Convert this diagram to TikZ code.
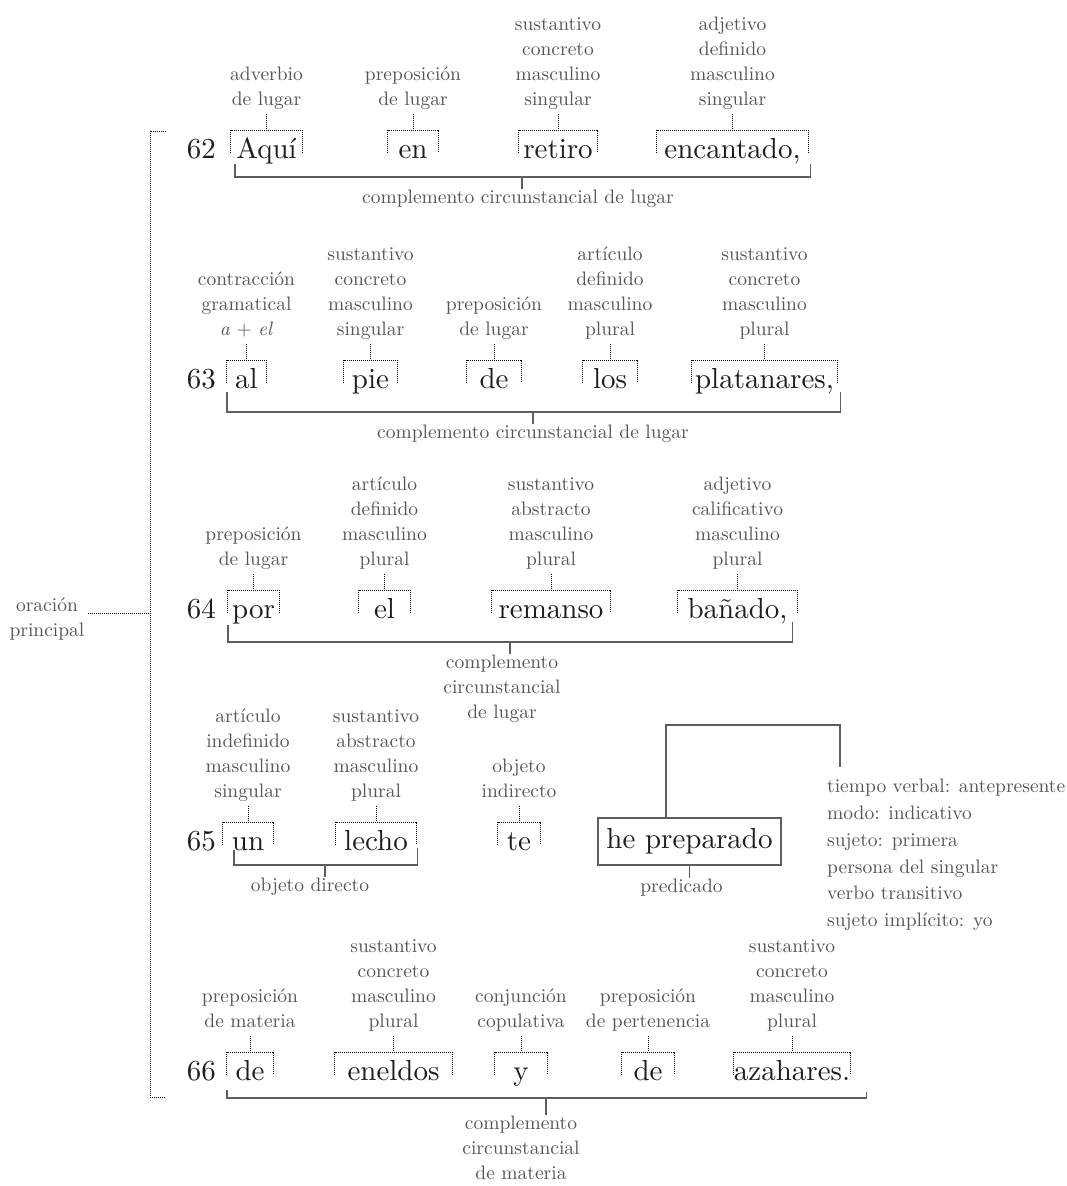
\documentclass[tikz,border=0pt]{standalone}
\usepackage{fontspec}
\setmainfont{lmroman10-regular.otf}[ItalicFont=lmroman10-italic.otf]
\usetikzlibrary{positioning,calc}
\definecolor{lblgray}{HTML}{555555}
\definecolor{wrdink}{HTML}{1E1E1E}
\definecolor{brkgray}{HTML}{5E5E5E}

\begin{document}
\begin{tikzpicture}[x=1pt, y=-1pt,
  wrd/.style={font=\fontsize{29}{29}\selectfont, text=wrdink, inner sep=0pt, anchor=base},
  lbl/.style={font=\fontsize{19.5}{25}\selectfont, text=lblgray, align=center, inner sep=1pt},
  toplbl/.style={lbl, execute at end node=\strut},
  tagbox/.style={minimum height=22pt, inner sep=0pt, anchor=north},
  dotln/.style={draw=black, line width=0.9pt, dash pattern=on 0.9pt off 1.1pt},
  brk/.style={draw=brkgray, line width=1.4pt}
]
  \path[fill=white] (0,0) rectangle (1066,1186);
  \useasboundingbox (0,0) rectangle (1066,1186);

  % verse numbers
  \foreach \r/\base in {62/158,63/388,64/618,65/850,66/1080}
    \node[wrd, anchor=base east] (n\r) at (216,\base) {\r};

  % words with their dotted tags
  \foreach \nm/\base/\xl/\xr/\word/\lab in {
      aqui/158/231/302/{Aquí}/{adverbio\\de lugar},
      en/158/388/438/{en}/{preposición\\de lugar},
      retiro/158/519/597/{retiro}/{sustantivo\\concreto\\masculino\\singular},
      encantado/158/657/808/{encantado,}/{adjetivo\\definido\\masculino\\singular},
      al/388/227/266/{al}/{contracción\\gramatical\\\textit{a} + \textit{el}},
      pie/388/344/397/{pie}/{sustantivo\\concreto\\masculino\\singular},
      de1/388/467/521/{de}/{preposición\\de lugar},
      los/388/583/637/{los}/{artículo\\definido\\masculino\\plural},
      platanares/388/692/837/{platanares,}/{sustantivo\\concreto\\masculino\\plural},
      por/618/228/279/{por}/{preposición\\de lugar},
      el/618/359/410/{el}/{artículo\\definido\\masculino\\plural},
      remanso/618/492/610/{remanso}/{sustantivo\\abstracto\\masculino\\plural},
      banado/618/678/797/{bañado,}/{adjetivo\\calificativo\\masculino\\plural},
      un/850/223/273/{un}/{artículo\\indefinido\\masculino\\singular},
      lecho/850/336/416/{lecho}/{sustantivo\\abstracto\\masculino\\plural},
      te/850/498/540/{te}/{objeto\\indirecto},
      de2/1080/227/273/{de}/{preposición\\de materia},
      eneldos/1080/335/452/{eneldos}/{sustantivo\\concreto\\masculino\\plural},
      y/1080/495/547/{y}/{conjunción\\copulativa},
      de3/1080/622/674/{de}/{preposición\\de pertenencia},
      azahares/1080/734/850/{azahares.}/{sustantivo\\concreto\\masculino\\plural}} {
    \node[tagbox, minimum width=\xr-\xl] (b-\nm) at ({(\xl+\xr)/2},{\base-28}) {};
    \node[wrd] (w-\nm) at ({(\xl+\xr)/2},\base) {\word};
    \node[toplbl, above=16pt of b-\nm] (l-\nm) {\lab};
    \draw[dotln] (b-\nm.south west) -- (b-\nm.north west) -- (b-\nm.north east) -- (b-\nm.south east);
    \draw[dotln] (l-\nm) -- (b-\nm);
  }

  % brackets under each line
  \coordinate (c62) at (522,177);
  \node[lbl, below=12pt of c62, xshift=-4pt] (cc62) {complemento circunstancial de lugar};
  \draw[brk] ([xshift=4pt,yshift=-12pt]b-aqui.south west) |- (c62) -| ([xshift=2pt,yshift=-12pt]b-encantado.south east);
  \draw[brk] (c62) -- (c62 |- cc62.north);

  \coordinate (c63) at (533,412);
  \node[lbl, below=12pt of c63] (cc63) {complemento circunstancial de lugar};
  \draw[brk] ([yshift=-10pt]b-al.south west) |- (c63) -| ([xshift=3pt,yshift=-10pt]b-platanares.south east);
  \draw[brk] (c63) -- (cc63);

  \coordinate (c64) at (510,642);
  \node[lbl, below=12pt of c64, xshift=-8pt] (cc64) {complemento\\circunstancial\\de lugar};
  \draw[brk] ([yshift=-13pt]b-por.south west) |- (c64) -| ([xshift=-5pt,yshift=-10pt]b-banado.south east);
  \draw[brk] (c64) -- (c64 |- cc64.north);

  \coordinate (c65) at (325,865);
  \node[lbl, below=12pt of c65, xshift=-15pt] (od) {objeto directo};
  \draw[brk] ([xshift=11pt,yshift=-6pt]b-un.south west) |- (c65) -| ([xshift=1pt,yshift=-4pt]b-lecho.south east);
  \draw[brk] (c65) -- (c65 |- od.north);

  \coordinate (c66) at (546,1098);
  \node[lbl, below=17pt of c66, xshift=-25pt] (cc66) {complemento\\circunstancial\\de materia};
  \draw[brk] ([yshift=-16pt]b-de2.south west) |- (c66) -| ([xshift=16pt,yshift=-18pt]b-azahares.south east);
  \draw[brk] (c66) -- (c66 |- cc66.north);

  % verb
  \node[wrd, anchor=center, draw=brkgray, line width=1.2pt, minimum width=183pt,
        minimum height=47pt] (w-he) at (689.5,841.5) {he preparado};
  \node[lbl, below=12pt of w-he, xshift=-8pt] (pred) {predicado};
  \draw[brk] (w-he.south) -- (w-he.south |- pred.north);
  \node[lbl, align=left, anchor=north west, font=\fontsize{19.5}{26.8}\selectfont] (verb) at (826,778)
    {tiempo verbal: antepresente\\modo: indicativo\\sujeto: primera\\persona del singular\\verbo transitivo\\sujeto implícito: yo};
  \coordinate (vk) at (840,725);
  \draw[brk] ([xshift=-23.5pt]w-he.north) |- (vk) -- ++(0,42);

  % main clause
  \coordinate (or-top) at (150,131);
  \coordinate (or-bot) at (150,1097);
  \draw[dotln] ([xshift=16pt]or-top) -- (or-top) -- (or-bot) -- ([xshift=16pt]or-bot);
  \node[lbl] (orac) at (47,619) {oración\\principal};
  \draw[dotln] ([yshift=6pt,xshift=2pt]orac.east) -- ([yshift=6pt]orac.east -| or-top);
\end{tikzpicture}
\end{document}
